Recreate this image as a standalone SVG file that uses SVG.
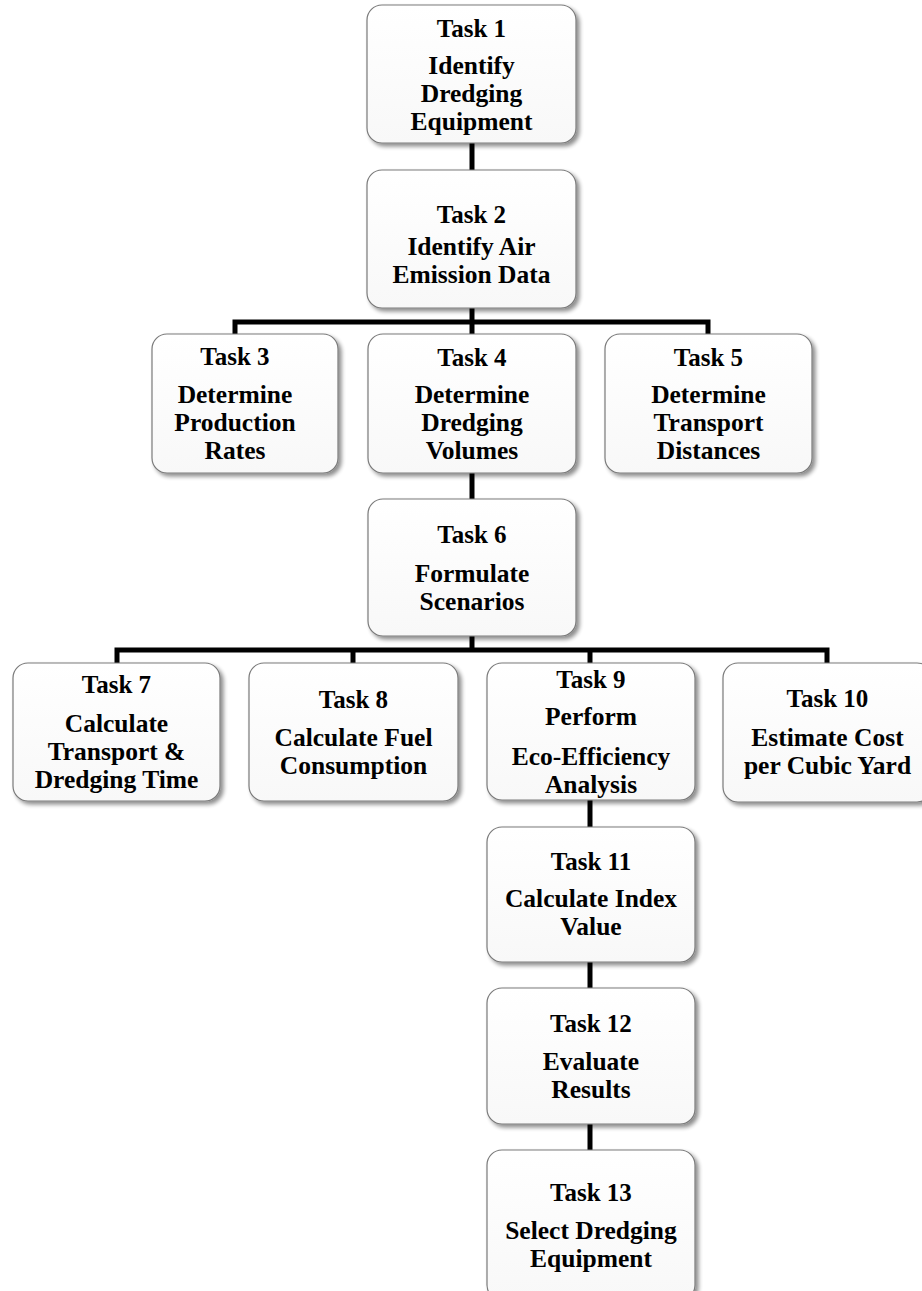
<svg xmlns="http://www.w3.org/2000/svg" width="922" height="1291" viewBox="0 0 922 1291">
<defs>
<linearGradient id="fillg" x1="0" y1="0" x2="0" y2="1">
<stop offset="0" stop-color="#ffffff"/>
<stop offset="1" stop-color="#f8f8f8"/>
</linearGradient>
<filter id="sh" x="-10%" y="-10%" width="125%" height="125%">
<feGaussianBlur in="SourceAlpha" stdDeviation="2"/>
<feOffset dx="3" dy="3" result="b"/>
<feComponentTransfer><feFuncA type="linear" slope="0.45"/></feComponentTransfer>
<feMerge><feMergeNode/><feMergeNode in="SourceGraphic"/></feMerge>
</filter>
</defs>
<style>
.box{fill:url(#fillg);stroke:#7a7a7a;stroke-width:1.2;filter:url(#sh)}
.t{font-family:"Liberation Serif","Times New Roman",serif;font-weight:bold;font-size:25px;fill:#000;text-anchor:middle}
.d{font-family:"Liberation Serif","Times New Roman",serif;font-weight:bold;font-size:25.5px;fill:#000;text-anchor:middle}
.c{fill:none;stroke:#000;stroke-width:5;stroke-linejoin:miter;stroke-linecap:butt}
</style>
<rect width="922" height="1291" fill="#ffffff"/>
<g id="connectors">
<path class="c" d="M472 143V170"/>
<path class="c" d="M472 308V322"/>
<path class="c" d="M235 334V322H708V334"/>
<path class="c" d="M472 322V334"/>
<path class="c" d="M472 473V499"/>
<path class="c" d="M472 636V650"/>
<path class="c" d="M117 663V650H827V663"/>
<path class="c" d="M353 650V663"/>
<path class="c" d="M590 650V663"/>
<path class="c" d="M590 800V827"/>
<path class="c" d="M590 962V988"/>
<path class="c" d="M590 1124V1150"/>
</g>
<g id="task1">
<rect class="box" x="367" y="5" width="209" height="138" rx="15"/>
<text class="t" x="471.5" y="37">Task 1</text>
<text class="d" x="471.5" y="74">Identify</text>
<text class="d" x="471.5" y="102">Dredging</text>
<text class="d" x="471.5" y="130">Equipment</text>
</g>
<g id="task2">
<rect class="box" x="367" y="170" width="209" height="138" rx="15"/>
<text class="t" x="471.5" y="223">Task 2</text>
<text class="d" x="471.5" y="255">Identify Air</text>
<text class="d" x="471.5" y="283">Emission Data</text>
</g>
<g id="task3">
<rect class="box" x="152" y="334" width="186" height="139" rx="15"/>
<text class="t" x="235" y="365">Task 3</text>
<text class="d" x="235" y="403">Determine</text>
<text class="d" x="235" y="431">Production</text>
<text class="d" x="235" y="459">Rates</text>
</g>
<g id="task4">
<rect class="box" x="368" y="334" width="208" height="139" rx="15"/>
<text class="t" x="472" y="366">Task 4</text>
<text class="d" x="472" y="403">Determine</text>
<text class="d" x="472" y="431">Dredging</text>
<text class="d" x="472" y="459">Volumes</text>
</g>
<g id="task5">
<rect class="box" x="605" y="334" width="207" height="139" rx="15"/>
<text class="t" x="708.5" y="366">Task 5</text>
<text class="d" x="708.5" y="403">Determine</text>
<text class="d" x="708.5" y="431">Transport</text>
<text class="d" x="708.5" y="459">Distances</text>
</g>
<g id="task6">
<rect class="box" x="368" y="499" width="208" height="137" rx="15"/>
<text class="t" x="472" y="543">Task 6</text>
<text class="d" x="472" y="582">Formulate</text>
<text class="d" x="472" y="610">Scenarios</text>
</g>
<g id="task7">
<rect class="box" x="13" y="663" width="207" height="138" rx="15"/>
<text class="t" x="116.5" y="693">Task 7</text>
<text class="d" x="116.5" y="732">Calculate</text>
<text class="d" x="116.5" y="760">Transport &amp;</text>
<text class="d" x="116.5" y="788">Dredging Time</text>
</g>
<g id="task8">
<rect class="box" x="249" y="663" width="209" height="138" rx="15"/>
<text class="t" x="353.5" y="708">Task 8</text>
<text class="d" x="353.5" y="746">Calculate Fuel</text>
<text class="d" x="353.5" y="774">Consumption</text>
</g>
<g id="task9">
<rect class="box" x="487" y="663" width="208" height="137" rx="15"/>
<text class="t" x="591" y="688">Task 9</text>
<text class="d" x="591" y="725">Perform</text>
<text class="d" x="591" y="765">Eco-Efficiency</text>
<text class="d" x="591" y="793">Analysis</text>
</g>
<g id="task10">
<rect class="box" x="723" y="663" width="209" height="139" rx="15"/>
<text class="t" x="827.5" y="707">Task 10</text>
<text class="d" x="827.5" y="746">Estimate Cost</text>
<text class="d" x="827.5" y="774">per Cubic Yard</text>
</g>
<g id="task11">
<rect class="box" x="487" y="827" width="208" height="135" rx="15"/>
<text class="t" x="591" y="870">Task 11</text>
<text class="d" x="591" y="907">Calculate Index</text>
<text class="d" x="591" y="935">Value</text>
</g>
<g id="task12">
<rect class="box" x="487" y="988" width="208" height="136" rx="15"/>
<text class="t" x="591" y="1032">Task 12</text>
<text class="d" x="591" y="1070">Evaluate</text>
<text class="d" x="591" y="1098">Results</text>
</g>
<g id="task13">
<rect class="box" x="487" y="1150" width="208" height="150" rx="15"/>
<text class="t" x="591" y="1201">Task 13</text>
<text class="d" x="591" y="1239">Select Dredging</text>
<text class="d" x="591" y="1267">Equipment</text>
</g>
</svg>
